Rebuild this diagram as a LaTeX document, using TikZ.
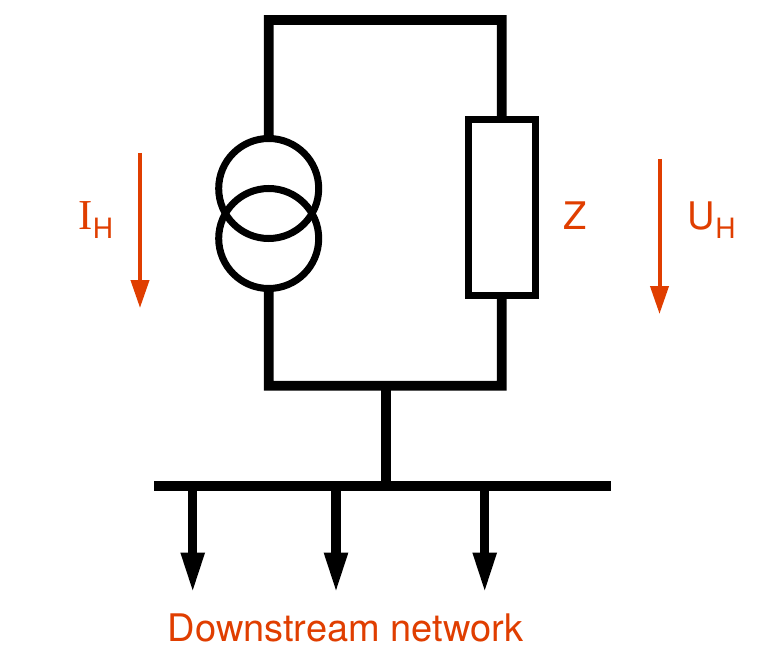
\documentclass[tikz,border=0pt]{standalone}
\usepackage{fontspec}
\setmainfont{TeX Gyre Heros}
\newfontfamily\serifI{Liberation Serif}
\usetikzlibrary{arrows.meta}
\definecolor{redlab}{HTML}{E03E00}
\tikzset{
 px/.style={x=0.75pt,y=-0.75pt},
 wire/.style={line width=7.4pt,line cap=butt,line join=miter,draw=black},
 thin wire/.style={line width=5.25pt,draw=black},
 oarrow/.style={draw=redlab,line width=3pt,-{Triangle[length=21pt,width=13.5pt]}},
 barrow/.style={draw=black,line width=7pt,-{Triangle[length=31pt,width=16pt]}},
 lab/.style={text=redlab,font=\fontsize{28.5pt}{32pt}\selectfont,inner sep=0pt},
}
\begin{document}
\begin{tikzpicture}[px]
\useasboundingbox (0,0) rectangle (767,670);
\fill[white] (0,0) rectangle (767,670);
\coordinate (c1) at (268.7,188.5);
\coordinate (c2) at (268.7,238.5);
\node[thin wire,circle,minimum size=75pt,inner sep=0pt,outer sep=0pt] (s1) at (c1) {};
\node[thin wire,circle,minimum size=75pt,inner sep=0pt,outer sep=0pt] (s2) at (c2) {};
\node[thin wire,minimum width=49.9pt,minimum height=132pt,inner sep=0pt,outer sep=0pt] (z) at (502,207.8) {};
\coordinate (tl) at (268.8,20);
\coordinate (tr) at (501.8,20);
\coordinate (bl) at (268.8,385.8);
\coordinate (br) at (501.8,385.8);
\draw[wire] (s1.north) -- (tl) -- (tr) -- (tr |- z.north);
\draw[wire] (s2.south) -- (bl) -- (br) -- (br |- z.south);
\coordinate (j1) at (386,385.8);
\coordinate (j2) at (386,486);
\draw[wire] (j1) -- (j2);
\coordinate (busl) at (154,486);
\coordinate (busr) at (611,486);
\draw[wire] (busl) -- (busr);
\coordinate (a1) at (192.7,486); \coordinate (a1e) at (192.7,594);
\coordinate (a2) at (336,486); \coordinate (a2e) at (336,594);
\coordinate (a3) at (484.7,486); \coordinate (a3e) at (484.7,594);
\draw[barrow] (a1) -- (a1e);
\draw[barrow] (a2) -- (a2e);
\draw[barrow] (a3) -- (a3e);
\coordinate (i1) at (140,153); \coordinate (i2) at (140,308);
\coordinate (u1) at (659.5,159); \coordinate (u2) at (659.5,314);
\draw[oarrow] (i1) -- (i2);
\draw[oarrow] (u1) -- (u2);
\node[lab,anchor=base west] (ih) at (78,230) {{\serifI\fontsize{32pt}{32pt}\selectfont I}\hspace{0.3pt}\raisebox{-6pt}{\fontsize{21pt}{21pt}\selectfont H}};
\node[lab,anchor=base west] (zl) at (563,230) {Z};
\node[lab,anchor=base west] (uh) at (687,230) {U\hspace{0.5pt}\raisebox{-6.5pt}{\fontsize{21pt}{21pt}\selectfont H}};
\node[lab,anchor=base] (dn) at (345.5,641) {Downstream network};
\end{tikzpicture}
\end{document}
